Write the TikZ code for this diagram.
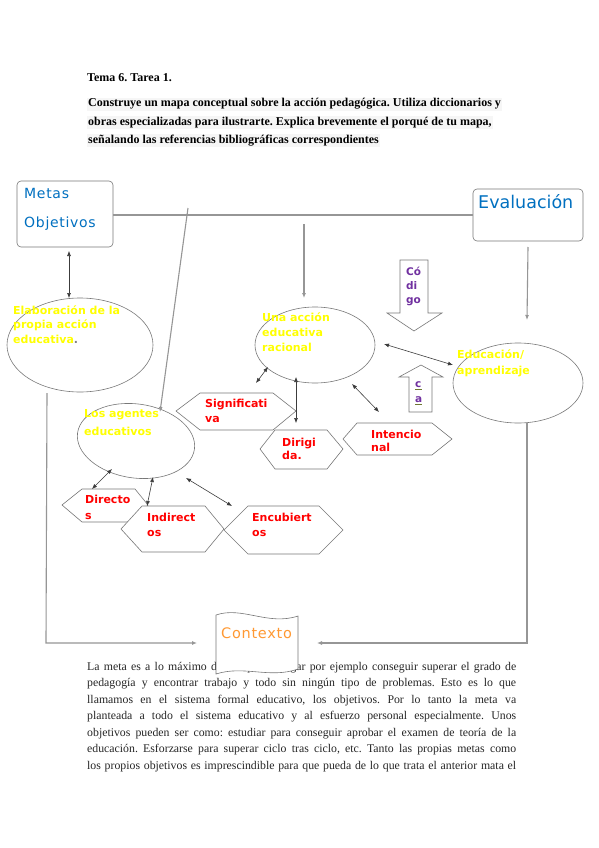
\documentclass[tikz,border=0pt]{standalone}
\usepackage{fontspec}
\setmainfont{Liberation Serif}
\newfontfamily\djs{DejaVu Sans}
\newfontfamily\djsl{DejaVu Sans}[LetterSpace=5]
\usetikzlibrary{arrows.meta,shapes.geometric}
\definecolor{blueT}{RGB}{0,112,192}
\definecolor{yelT}{RGB}{255,255,0}
\definecolor{redT}{RGB}{255,0,0}
\definecolor{purT}{RGB}{112,48,160}
\definecolor{oraT}{RGB}{255,153,51}
\definecolor{lineG}{RGB}{150,150,150}
\definecolor{shapeG}{RGB}{120,120,120}
\definecolor{arrG}{RGB}{60,60,60}
\definecolor{ulG}{RGB}{110,120,50}
\definecolor{hlG}{RGB}{246,246,246}
\tikzset{
  bigline/.style={draw=lineG,line width=1.1pt},
  duo/.style={draw=arrG,line width=0.6pt,{Latex[length=5pt,width=4pt]}-{Latex[length=5pt,width=4pt]}},
  box/.style={draw=shapeG,line width=0.6pt,rounded corners=4pt,fill=white},
  oval/.style={draw=shapeG,line width=0.6pt,ellipse,inner sep=0pt},
  hexa/.style={draw=shapeG,line width=0.6pt,fill=white},
  ylab/.style={anchor=base west,inner sep=0pt,text=yelT,font=\djs\bfseries\fontsize{11}{14}\selectfont},
  rlab/.style={anchor=base west,inner sep=0pt,text=redT,font=\djs\bfseries\fontsize{11}{13}\selectfont},
  plab/.style={anchor=base west,inner sep=0pt,text=purT,font=\djs\bfseries\fontsize{10.5}{13}\selectfont},
  head/.style={anchor=base west,inner sep=1pt,fill=hlG,font=\bfseries\fontsize{12}{14}\selectfont},
  body/.style={anchor=base west,inner sep=0pt,text=black!85,font=\fontsize{11.8}{14}\selectfont},
}
\begin{document}
\frenchspacing
\begin{tikzpicture}[x=1pt,y=-1pt]
\useasboundingbox (0,0) rectangle (599,848);
\fill[white] (0,0) rectangle (599,848);

% header texts
\node[anchor=base west,inner sep=0pt,font=\bfseries\fontsize{12}{14}\selectfont] (t0) at (87,82) {Tema 6. Tarea 1.};
\node[head] (h1) at (87,107) {Construye un mapa conceptual sobre la acción pedagógica. Utiliza diccionarios y};
\node[head] (h2) at (87,125) {obras especializadas para ilustrarte. Explica brevemente el porqué de tu mapa,};
\node[head] (h3) at (87,143) {señalando las referencias bibliográficas correspondientes};

% body text
\node[body] (b1) at (87,670) {\makebox[429pt][s]{La meta es a lo máximo donde quiero llegar por ejemplo conseguir superar el grado de}};
\node[body] (b2) at (87,686.5) {\makebox[429pt][s]{pedagogía y encontrar trabajo y todo sin ningún tipo de problemas. Esto es lo que}};
\node[body] (b3) at (87,703) {\makebox[429pt][s]{llamamos en el sistema formal educativo, los objetivos. Por lo tanto la meta va}};
\node[body] (b4) at (87,719.5) {\makebox[429pt][s]{planteada a todo el sistema educativo y al esfuerzo personal especialmente. Unos}};
\node[body] (b5) at (87,736) {\makebox[429pt][s]{objetivos pueden ser como: estudiar para conseguir aprobar el examen de teoría de la}};
\node[body] (b6) at (87,752.5) {\makebox[429pt][s]{educación. Esforzarse para superar ciclo tras ciclo, etc. Tanto las propias metas como}};
\node[body] (b7) at (87,769) {\makebox[429pt][s]{los propios objetivos es imprescindible para que pueda de lo que trata el anterior mata el}};

% boxes
\draw[box] (17,181) rectangle (113,247);
\coordinate (metasR) at (113,215);
\node[anchor=base west,inner sep=0pt,text=blueT,font=\djsl\fontsize{14}{16}\selectfont] (metas) at (24,198) {Metas};
\node[anchor=base west,inner sep=0pt,text=blueT,font=\djsl\fontsize{14}{16}\selectfont] (objet) at (24,227) {Objetivos};
\draw[box] (473,189) rectangle (583,241);
\coordinate (evalL) at (473,215);
\node[anchor=base west,inner sep=0pt,text=blueT,font=\djs\fontsize{17.5}{18}\selectfont] (evalu) at (478,208) {Evaluación};

% ellipses
\node[oval,minimum width=146pt,minimum height=94pt] (elab) at (80,345) {};
\node[oval,minimum width=118pt,minimum height=74pt,rotate=-8] (agen) at (136,441) {};
\node[oval,minimum width=120pt,minimum height=76pt] (una) at (315,345) {};
\node[oval,minimum width=130pt,minimum height=80pt] (educ) at (518,383) {};

% hexagons
\draw[hexa] (176,411) -- (200,393) -- (273,393) -- (296,411) -- (273,430) -- (200,430) -- cycle;
\draw[hexa] (260,449) -- (275,430) -- (327,430) -- (343,449) -- (327,469) -- (275,469) -- cycle;
\draw[hexa] (343,439) -- (357,423) -- (432,423) -- (452,439) -- (432,455) -- (357,455) -- cycle;
\draw[hexa] (62,505) -- (82,489) -- (135,489) -- (148,505) -- (135,522) -- (82,522) -- cycle;
\draw[hexa] (121,529) -- (142,506) -- (205,506) -- (224,529) -- (205,552) -- (142,552) -- cycle;
\draw[hexa] (224,530) -- (248,506) -- (319,506) -- (343,530) -- (319,554) -- (248,554) -- cycle;

% block arrows
\draw[hexa] (400,260) -- (428,260) -- (428,313) -- (442,313) -- (414,331) -- (387,313) -- (400,313) -- cycle;
\draw[hexa] (421,365) -- (443,377) -- (432,377) -- (432,412) -- (409,412) -- (409,377) -- (399,377) -- cycle;

% labels
\node[ylab] (el1) at (13,314) {Elaboración de la};
\node[ylab] (el2) at (13,328.5) {propia acción};
\node[ylab] (el3) at (13,343) {educativa\textcolor{gray}{.}};
\node[ylab] (ag1) at (84,417) {Los agentes};
\node[ylab] (ag2) at (84,435) {educativos};
\node[ylab] (un1) at (262,321) {Una acción};
\node[ylab] (un2) at (262,336) {educativa};
\node[ylab] (un3) at (262,351) {racional};
\node[ylab] (ed1) at (457,358) {Educación/};
\node[ylab] (ed2) at (457,374) {aprendizaje};

\node[rlab] (si1) at (205,407) {Significati};
\node[rlab] (si2) at (205,422) {va};
\node[rlab] (di1) at (282,446) {Dirigi};
\node[rlab] (di2) at (282,459) {da.};
\node[rlab] (in1) at (371,438) {Intencio};
\node[rlab] (in2) at (371,451) {nal};
\node[rlab] (dr1) at (85,503) {Directo};
\node[rlab] (dr2) at (85,519) {s};
\node[rlab] (id1) at (147,521) {Indirect};
\node[rlab] (id2) at (147,536) {os};
\node[rlab] (en1) at (252,521) {Encubiert};
\node[rlab] (en2) at (252,536) {os};

\node[plab] (co1) at (406,275) {Có};
\node[plab] (co2) at (406,289) {di};
\node[plab] (co3) at (406,303) {go};
\node[plab] (ca1) at (415,387) {c};
\node[plab] (ca2) at (415,402) {a};
\draw[ulG,line width=0.8pt] (ca1.base west) ++(0,2) -- ++(7,0);
\draw[ulG,line width=0.8pt] (ca2.base west) ++(0,2) -- ++(7,0);

% big connectors
\draw[bigline] (metasR) -- (evalL);
\coordinate (d1s) at (188,208); \coordinate (d1e) at (160,412);
\draw[bigline,-{Latex[length=5pt,width=4pt]}] (d1s) -- (d1e);
\coordinate (d2s) at (304,224); \coordinate (d2e) at (304,298);
\draw[bigline,-{Latex[length=5pt,width=4pt]}] (d2s) -- (d2e);
\coordinate (d3s) at (528,247); \coordinate (d3e) at (527,320);
\draw[bigline,-{Latex[length=5pt,width=4pt]}] (d3s) -- (d3e);
\coordinate (l1s) at (47,393); \coordinate (l1c) at (46,643); \coordinate (l1e) at (197,643);
\draw[bigline,-{Latex[length=5pt,width=4pt]}] (l1s) -- (l1c) -- (l1e);
\coordinate (r1s) at (527,423); \coordinate (r1c) at (527,643); \coordinate (r1e) at (317,643);
\draw[bigline,-{Latex[length=5pt,width=4pt]}] (r1s) -- (r1c) -- (r1e);

% small double arrows
\coordinate (m1) at (69,251); \coordinate (m2) at (69,298);
\draw[duo] (m1) -- (m2);
\coordinate (a1) at (112,469); \coordinate (a2) at (92,489);
\draw[duo] (a1) -- (a2);
\coordinate (a3) at (153,477); \coordinate (a4) at (147,506);
\draw[duo] (a3) -- (a4);
\coordinate (a5) at (186,478); \coordinate (a6) at (232,506);
\draw[duo] (a5) -- (a6);
\coordinate (u1) at (268,367); \coordinate (u2) at (256,383);
\draw[duo] (u1) -- (u2);
\coordinate (u3) at (296,377); \coordinate (u4) at (296,423);
\draw[duo] (u3) -- (u4);
\coordinate (u5) at (352,384); \coordinate (u6) at (379,412);
\draw[duo] (u5) -- (u6);
\coordinate (u7) at (384,344); \coordinate (u8) at (453,365);
\draw[duo] (u7) -- (u8);

% Contexto flag
\draw[hexa] (216,615) .. controls (242,606) and (268,626) .. (298,616) -- (298,669)
  .. controls (270,679) and (244,665) .. (216,674) -- cycle;
\node[anchor=base west,inner sep=0pt,text=oraT,font=\djsl\fontsize{14.5}{16}\selectfont] (cont) at (221,638) {Contexto};
\end{tikzpicture}
\end{document}
